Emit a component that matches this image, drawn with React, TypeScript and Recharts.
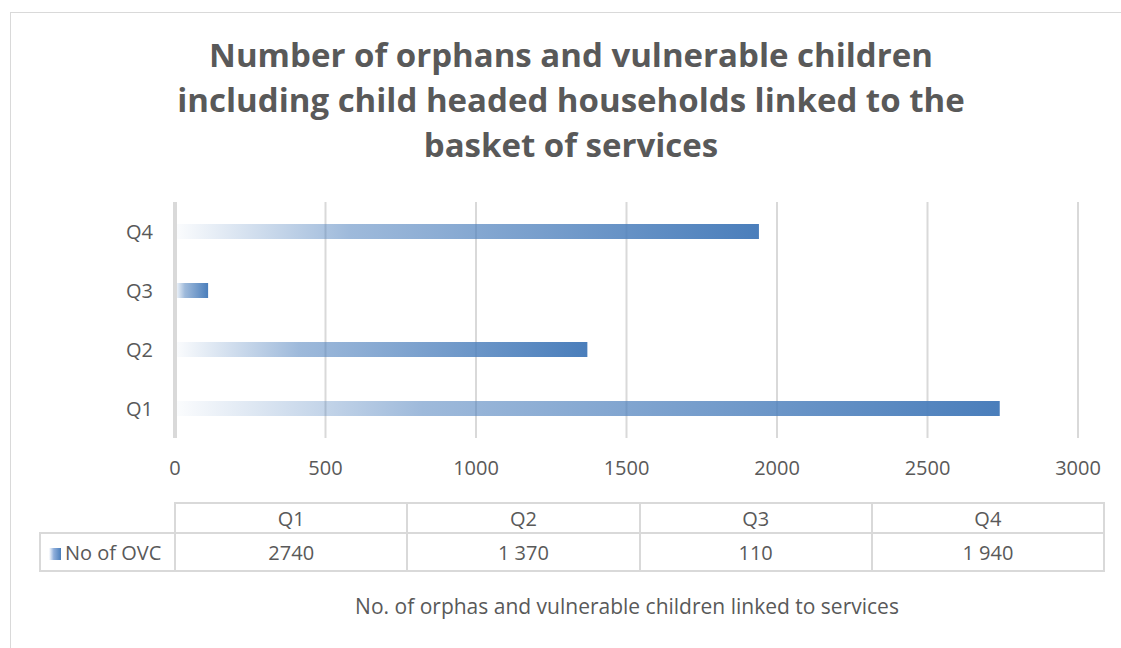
import React from "react";
import { BarChart, Bar, CartesianGrid, XAxis, YAxis } from "recharts";

const quarters = ["Q1", "Q2", "Q3", "Q4"];
const ovcCounts = [2740, 1370, 110, 1940];
const ovcLabels = ["2740", "1 370", "110", "1 940"];
const xTicks = [0, 500, 1000, 1500, 2000, 2500, 3000];

const seriesName = "No of OVC";
const chartTitle = ["Number of orphans and vulnerable children", "including child headed households linked to the", "basket of services"];
const footerText = "No. of orphas and vulnerable children linked to services";

const data = quarters.map((q, i) => ({ quarter: q, ovc: ovcCounts[i] }));

const textColor = "#595959";
const gridColor = "#d9d9d9";
const font = "'Open Sans', sans-serif";
const labelSize = 20;

const cellStyle: React.CSSProperties = {
  border: `2px solid ${gridColor}`,
  textAlign: "center",
  padding: 0,
  fontSize: labelSize,
  color: textColor,
  fontFamily: font,
};

const DataTable = () => (
  <table
    style={{
      position: "absolute",
      left: 39,
      top: 502,
      width: 1066,
      borderCollapse: "collapse",
      tableLayout: "fixed",
    }}
  >
    <colgroup>
      <col style={{ width: 135 }} />
      {quarters.map((q) => (
        <col key={q} style={{ width: 232 }} />
      ))}
    </colgroup>
    <tbody>
      <tr style={{ height: 30 }}>
        <td style={{ ...cellStyle, borderTop: "none", borderLeft: "none" }} />
        {quarters.map((q) => (
          <td key={q} style={cellStyle}>
            {q}
          </td>
        ))}
      </tr>
      <tr style={{ height: 38 }}>
        <td style={{ ...cellStyle, textAlign: "left", paddingLeft: 8, whiteSpace: "nowrap" }}>
          <span
            style={{
              display: "inline-block",
              width: 12,
              height: 12,
              marginRight: 4,
              background: "linear-gradient(to right, #ffffff, #8eaedb 40%, #4a7ebb)",
            }}
          />
          {seriesName}
        </td>
        {ovcLabels.map((v, i) => (
          <td key={i} style={cellStyle}>
            {v}
          </td>
        ))}
      </tr>
    </tbody>
  </table>
);

export default function App() {
  return (
    <div style={{ position: "absolute", left: 0, top: 0, width: 1121, height: 648, background: "#fff", overflow: "hidden" }}>
      <div
        style={{
          position: "absolute",
          left: 10,
          top: 12,
          width: 1121,
          height: 648,
          border: `1px solid ${gridColor}`,
        }}
      />
      <div
        style={{
          position: "absolute",
          left: 0,
          top: 32,
          width: 1142,
          textAlign: "center",
          fontFamily: font,
          fontWeight: 700,
          fontSize: 33,
          lineHeight: "45px",
          color: textColor,
        }}
      >
        {chartTitle.map((line) => (
          <div key={line}>{line}</div>
        ))}
      </div>
      <div style={{ position: "absolute", left: 0, top: 0 }}>
        <BarChart
          width={1121}
          height={648}
          data={data}
          layout="vertical"
          margin={{ top: 202, right: 43, bottom: 170, left: 115 }}
        >
          <defs>
            <linearGradient id="ovcGrad" x1="0" y1="0" x2="1" y2="0">
              <stop offset="0%" stopColor="#4f81bd" stopOpacity={0.02} />
              <stop offset="30%" stopColor="#4f81bd" stopOpacity={0.55} />
              <stop offset="100%" stopColor="#4a7ebb" stopOpacity={1} />
            </linearGradient>
          </defs>
          <CartesianGrid horizontal={false} stroke={gridColor} strokeWidth={2} />
          <XAxis
            type="number"
            domain={[0, 3000]}
            ticks={xTicks}
            axisLine={false}
            tickLine={false}
            height={40}
            tick={{ fill: textColor, fontSize: labelSize, fontFamily: font, dy: 15 }}
          />
          <YAxis
            type="category"
            dataKey="quarter"
            reversed
            width={60}
            tickLine={false}
            axisLine={{ stroke: gridColor, strokeWidth: 4 }}
            tick={{ fill: textColor, fontSize: labelSize, fontFamily: font, dx: -14 }}
          />
          <Bar dataKey="ovc" name={seriesName} fill="url(#ovcGrad)" barSize={15} isAnimationActive={false} />
        </BarChart>
      </div>
      <DataTable />
      <div
        style={{
          position: "absolute",
          left: 0,
          top: 592,
          width: 1254,
          textAlign: "center",
          fontFamily: font,
          fontSize: 21,
          color: textColor,
        }}
      >
        {footerText}
      </div>
    </div>
  );
}
